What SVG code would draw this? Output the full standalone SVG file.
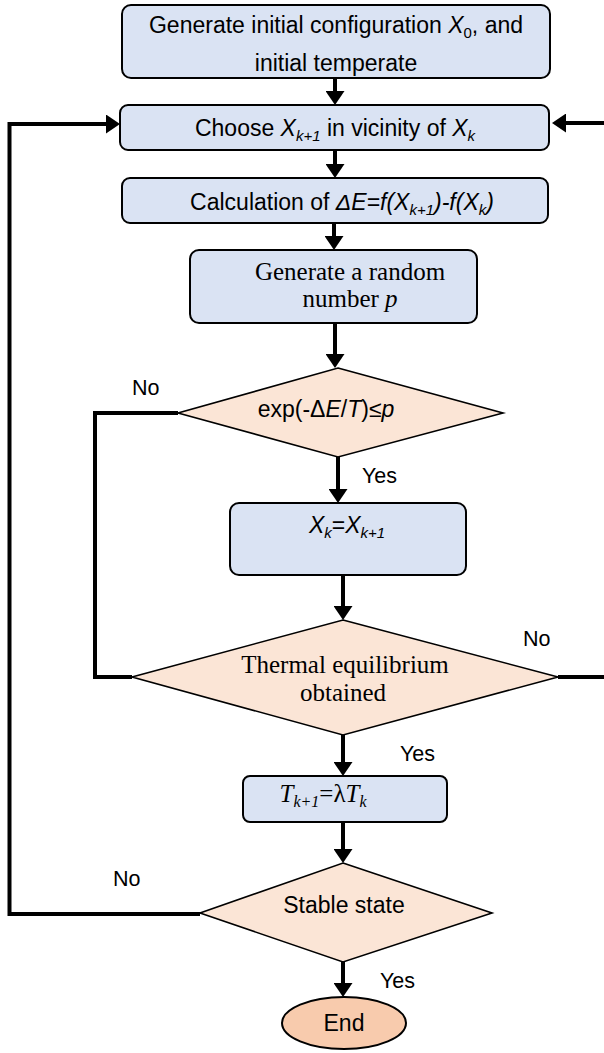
<svg xmlns="http://www.w3.org/2000/svg" width="604" height="1053" viewBox="0 0 604 1053">
<defs>
<marker id="arr" markerUnits="userSpaceOnUse" viewBox="0 0 14 19" markerWidth="14" markerHeight="19" refX="10" refY="9.5" orient="auto">
<path d="M0,0 L14,9.5 L0,19 z" fill="#000"/>
</marker>
<style>
.box{fill:#dae3f3;stroke:#000;stroke-width:2}
.dia{fill:#fbe5d6;stroke:#000;stroke-width:1.6}
.term{fill:#f8cbad;stroke:#000;stroke-width:2}
.con{fill:none;stroke:#000;stroke-width:4}
.sans{font-family:"Liberation Sans",Arial,sans-serif;font-size:23px;fill:#000;text-anchor:middle}
.serif{font-family:"Liberation Serif","Times New Roman",serif;font-size:25px;fill:#000;text-anchor:middle}
.lbl{font-family:"Liberation Sans",Arial,sans-serif;font-size:21.5px;fill:#000}
.it{font-style:italic}
</style>
</defs>
<rect width="604" height="1053" fill="#fff"/>
<g id="connectors">
<path class="con" d="M335,78 V101" marker-end="url(#arr)"/>
<path class="con" d="M335,150 V174" marker-end="url(#arr)"/>
<path class="con" d="M334,223 V246" marker-end="url(#arr)"/>
<path class="con" d="M335,323 V364" marker-end="url(#arr)"/>
<path class="con" d="M338,457 V499" marker-end="url(#arr)"/>
<path class="con" d="M343,575 V616" marker-end="url(#arr)"/>
<path class="con" d="M343,735 V772" marker-end="url(#arr)"/>
<path class="con" d="M343,822 V859" marker-end="url(#arr)"/>
<path class="con" d="M343,961 V993" marker-end="url(#arr)"/>
<path class="con" d="M178,413 H95 V677 H132"/>
<path class="con" d="M200,914 H9.5 V124 H116" marker-end="url(#arr)"/>
<path class="con" d="M558,677 H610 V123 H556" marker-end="url(#arr)"/>
<text class="lbl" x="132" y="395">No</text>
<text class="lbl" x="362" y="483">Yes</text>
<text class="lbl" x="523" y="646">No</text>
<text class="lbl" x="400" y="761">Yes</text>
<text class="lbl" x="113" y="886">No</text>
<text class="lbl" x="380" y="988">Yes</text>
</g>
<g id="start">
<rect class="box" x="122" y="5" width="428" height="73" rx="9"/>
<text class="sans" x="336" y="33" font-size="23.5">Generate initial configuration <tspan class="it">X</tspan><tspan font-size="15" dy="5">0</tspan><tspan dy="-5">, and</tspan></text>
<text class="sans" x="336" y="71" font-size="23.5">initial temperate</text>
</g>
<g id="choose">
<rect class="box" x="120" y="105" width="429" height="45" rx="8"/>
<text class="sans" x="335" y="136">Choose <tspan class="it">X</tspan><tspan class="it" font-size="15" dy="5">k+1</tspan><tspan dy="-5"> in vicinity of </tspan><tspan class="it">X</tspan><tspan class="it" font-size="15" dy="5">k</tspan></text>
</g>
<g id="calc">
<rect class="box" x="122" y="178" width="426" height="45" rx="8"/>
<text class="sans" x="342" y="210">Calculation of <tspan class="it">ΔE=f(X</tspan><tspan class="it" font-size="15" dy="5">k+1</tspan><tspan class="it" dy="-5">)-f(X</tspan><tspan class="it" font-size="15" dy="5">k</tspan><tspan class="it" dy="-5">)</tspan></text>
</g>
<g id="random">
<rect class="box" x="190" y="250" width="287" height="73" rx="9"/>
<text class="serif" x="350" y="280">Generate a random</text>
<text class="serif" x="350" y="307">number <tspan class="it">p</tspan></text>
</g>
<g id="accept">
<polygon class="dia" points="338,368 503,413 338,457 178,413"/>
<text class="sans" x="326" y="417">exp(-Δ<tspan class="it">E</tspan>/<tspan class="it">T</tspan>)≤<tspan class="it">p</tspan></text>
</g>
<g id="update">
<rect class="box" x="230" y="503" width="236" height="72" rx="9"/>
<text class="sans" x="347" y="533"><tspan class="it">X</tspan><tspan class="it" font-size="15" dy="5">k</tspan><tspan dy="-5">=</tspan><tspan class="it">X</tspan><tspan class="it" font-size="15" dy="5">k+1</tspan></text>
</g>
<g id="equilibrium">
<polygon class="dia" points="343,620 558,677 343,735 132,677"/>
<text class="serif" x="345" y="673">Thermal equilibrium</text>
<text class="serif" x="343" y="701">obtained</text>
</g>
<g id="cool">
<rect class="box" x="243" y="776" width="204" height="46" rx="7"/>
<text class="serif" x="323" y="802"><tspan class="it">T</tspan><tspan class="it" font-size="16" dy="5">k+1</tspan><tspan dy="-5">=λ</tspan><tspan class="it">T</tspan><tspan class="it" font-size="16" dy="5">k</tspan></text>
</g>
<g id="stable">
<polygon class="dia" points="343,863 492,913 343,962 200,913"/>
<text class="sans" x="344" y="913">Stable state</text>
</g>
<g id="end">
<ellipse class="term" cx="344" cy="1023" rx="62" ry="26"/>
<text class="sans" x="344" y="1031" font-size="22">End</text>
</g>
</svg>
